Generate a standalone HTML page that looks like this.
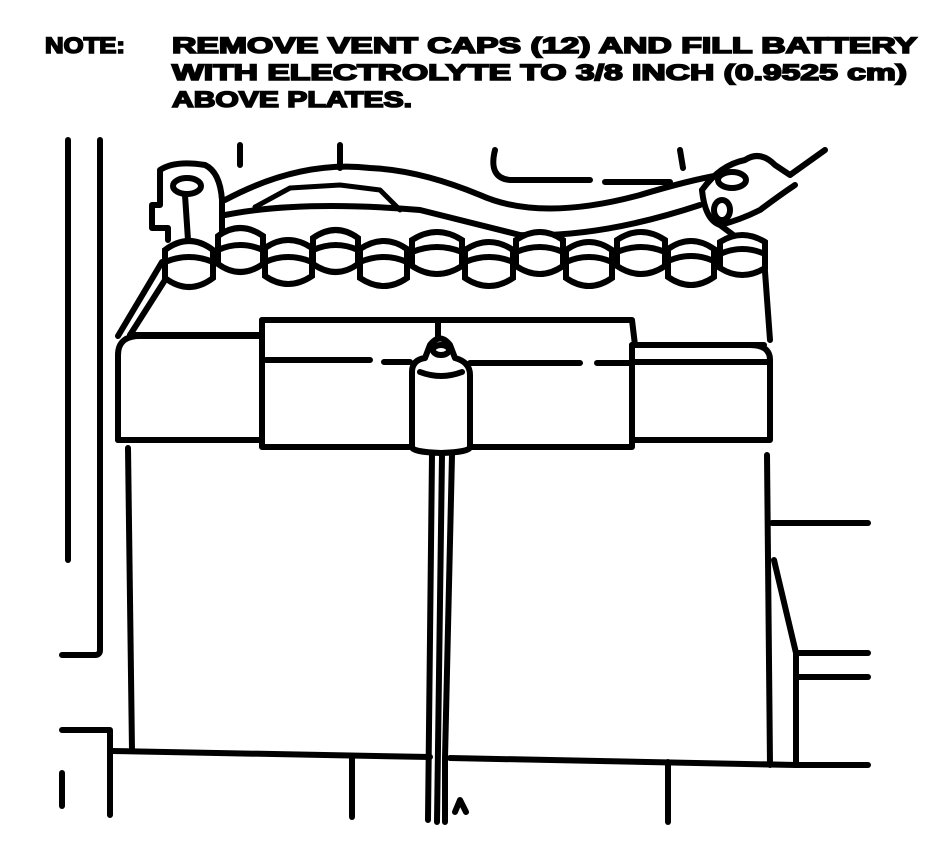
<!DOCTYPE html>
<html><head><style>
html,body{margin:0;padding:0;background:#fff;}
svg{display:block;}
text{font-family:"Liberation Sans",sans-serif;font-weight:bold;fill:#000;stroke:#000;stroke-width:1.6;}
</style></head><body>
<svg width="949" height="847" viewBox="0 0 949 847" xmlns="http://www.w3.org/2000/svg">
<g font-size="22">
<text x="45" y="53" textLength="80" lengthAdjust="spacingAndGlyphs">NOTE:</text>
<text x="172" y="53" textLength="745" lengthAdjust="spacingAndGlyphs">REMOVE VENT CAPS (12) AND FILL BATTERY</text>
<text x="172" y="80" textLength="735" lengthAdjust="spacingAndGlyphs">WITH ELECTROLYTE TO 3/8 INCH (0.9525 cm)</text>
<text x="172" y="107" textLength="240" lengthAdjust="spacingAndGlyphs">ABOVE PLATES.</text>
</g>
<g fill="none" stroke="#000" stroke-width="6" stroke-linecap="round" stroke-linejoin="round">
<!-- left background lines -->
<path d="M68 140 V560"/>
<path d="M100 140 V650 Q100 655 95 655 H62"/>
<path d="M62 730 H110 V815"/>
<path d="M62 773 V806"/>
<!-- battery body -->
<path d="M128 448 L132 751"/>
<path d="M112 751 L430 757"/>
<path d="M450 758 L796 765 H868"/>
<path d="M767 455 L770 765"/>
<path d="M772 523 H868"/>
<path d="M774 560 L796 653 V765"/>
<path d="M796 653 H868"/>
<path d="M796 677 H868"/>
<path d="M352 757 V817"/>
<path d="M668 762 V822"/>
<!-- top slab -->
<path d="M118 440 V355 Q118 336 140 336 H262"/>
<path d="M118 440 H262"/>
<path d="M262 320 H632 L635 345 H750 Q770 345 770 360 V440 H632"/>
<path d="M262 320 V447 H410"/>
<path d="M470 447 H632 V345"/>
<path d="M266 360 H370 M384 362 H410 M470 363 H580 M597 363 H632"/>
<path d="M635 362 H770"/>
<path d="M118 336 L162 262"/>
<path d="M130 335 L165 280"/>
<path d="M130 335 H262"/>
<path d="M764 258 L770 340"/>
<path d="M632 345 H764"/>
<!-- probe -->
<path d="M412 447 V372 Q412 360 425 358 L430 345 Q440 332 450 345 L455 358 Q470 362 470 375 V447 Q470 452 441 453 Q412 452 412 447Z" fill="#fff"/>
<path d="M438 322 V338"/>
<ellipse cx="441" cy="350" rx="8" ry="5"/>
<path d="M420 372 Q441 380 462 372"/>
<!-- tube -->
<path d="M432 455 L428 820"/>
<path d="M442 455 L437 822"/>
<path d="M452 455 L445 758 V822"/>
<path d="M455 812 L460 800 L466 812"/>
<!-- cable -->
<path d="M225 200 Q300 160 370 168 Q420 170 480 195 Q540 222 640 195 Q690 180 720 175"/>
<path d="M225 215 Q300 200 420 210 Q480 225 520 235 Q600 238 700 205"/>
<path d="M255 207 L290 188 L340 185 L380 190 L400 210" stroke-width="5"/>
<path d="M340 145 V168 M240 145 V165"/>
<path d="M495 150 Q488 178 510 180 H590 M605 182 H670 M680 150 L683 168"/>
<!-- left clamp -->
<path d="M160 170 Q175 160 205 165 Q220 172 222 200 V240 M160 170 V205 H152 V228 H168 V240"/>
<ellipse cx="187" cy="186" rx="14" ry="8"/>
<path d="M185 195 L188 240"/>
<!-- right clamp -->
<path d="M702 190 Q720 165 745 160 Q760 150 775 165 L790 175 L825 150"/>
<ellipse cx="732" cy="180" rx="14" ry="8"/>
<path d="M702 190 Q705 220 720 225 Q740 220 760 210 Q780 195 795 185"/>
<path d="M720 225 L740 240"/>
<ellipse cx="722" cy="210" rx="8" ry="10"/>
</g>
<g fill="#fff" stroke="#000" stroke-width="6">
<path d="M165 250 Q189 232 213 250 V278 Q189 296 165 278Z"/><path d="M165 262 Q189 252 213 262" fill="none"/>
<path d="M218 236 Q240 220 263 236 V264 Q240 280 218 264Z"/><path d="M218 250 Q240 240 263 250" fill="none"/>
<path d="M265 248 Q288 232 312 248 V276 Q288 292 265 276Z"/><path d="M265 262 Q288 252 312 262" fill="none"/>
<path d="M313 238 Q336 222 358 238 V264 Q336 280 313 264Z"/><path d="M313 250 Q336 240 358 250" fill="none"/>
<path d="M360 249 Q384 233 407 249 V278 Q384 294 360 278Z"/><path d="M360 262 Q384 252 407 262" fill="none"/>
<path d="M412 240 Q437 224 462 240 V266 Q437 282 412 266Z"/><path d="M412 252 Q437 242 462 252" fill="none"/>
<path d="M465 250 Q489 234 513 250 V278 Q489 294 465 278Z"/><path d="M465 262 Q489 252 513 262" fill="none"/>
<path d="M516 240 Q540 224 563 240 V266 Q540 282 516 266Z"/><path d="M516 252 Q540 242 563 252" fill="none"/>
<path d="M566 250 Q589 234 612 250 V278 Q589 294 566 278Z"/><path d="M566 262 Q589 252 612 262" fill="none"/>
<path d="M617 240 Q641 224 665 240 V266 Q641 282 617 266Z"/><path d="M617 252 Q641 242 665 252" fill="none"/>
<path d="M668 249 Q691 233 714 249 V277 Q691 293 668 277Z"/><path d="M668 261 Q691 251 714 261" fill="none"/>
<path d="M720 242 Q742 228 765 242 V268 Q742 282 720 268Z"/><path d="M720 254 Q742 244 765 254" fill="none"/>
</g>
</svg>
</body></html>
